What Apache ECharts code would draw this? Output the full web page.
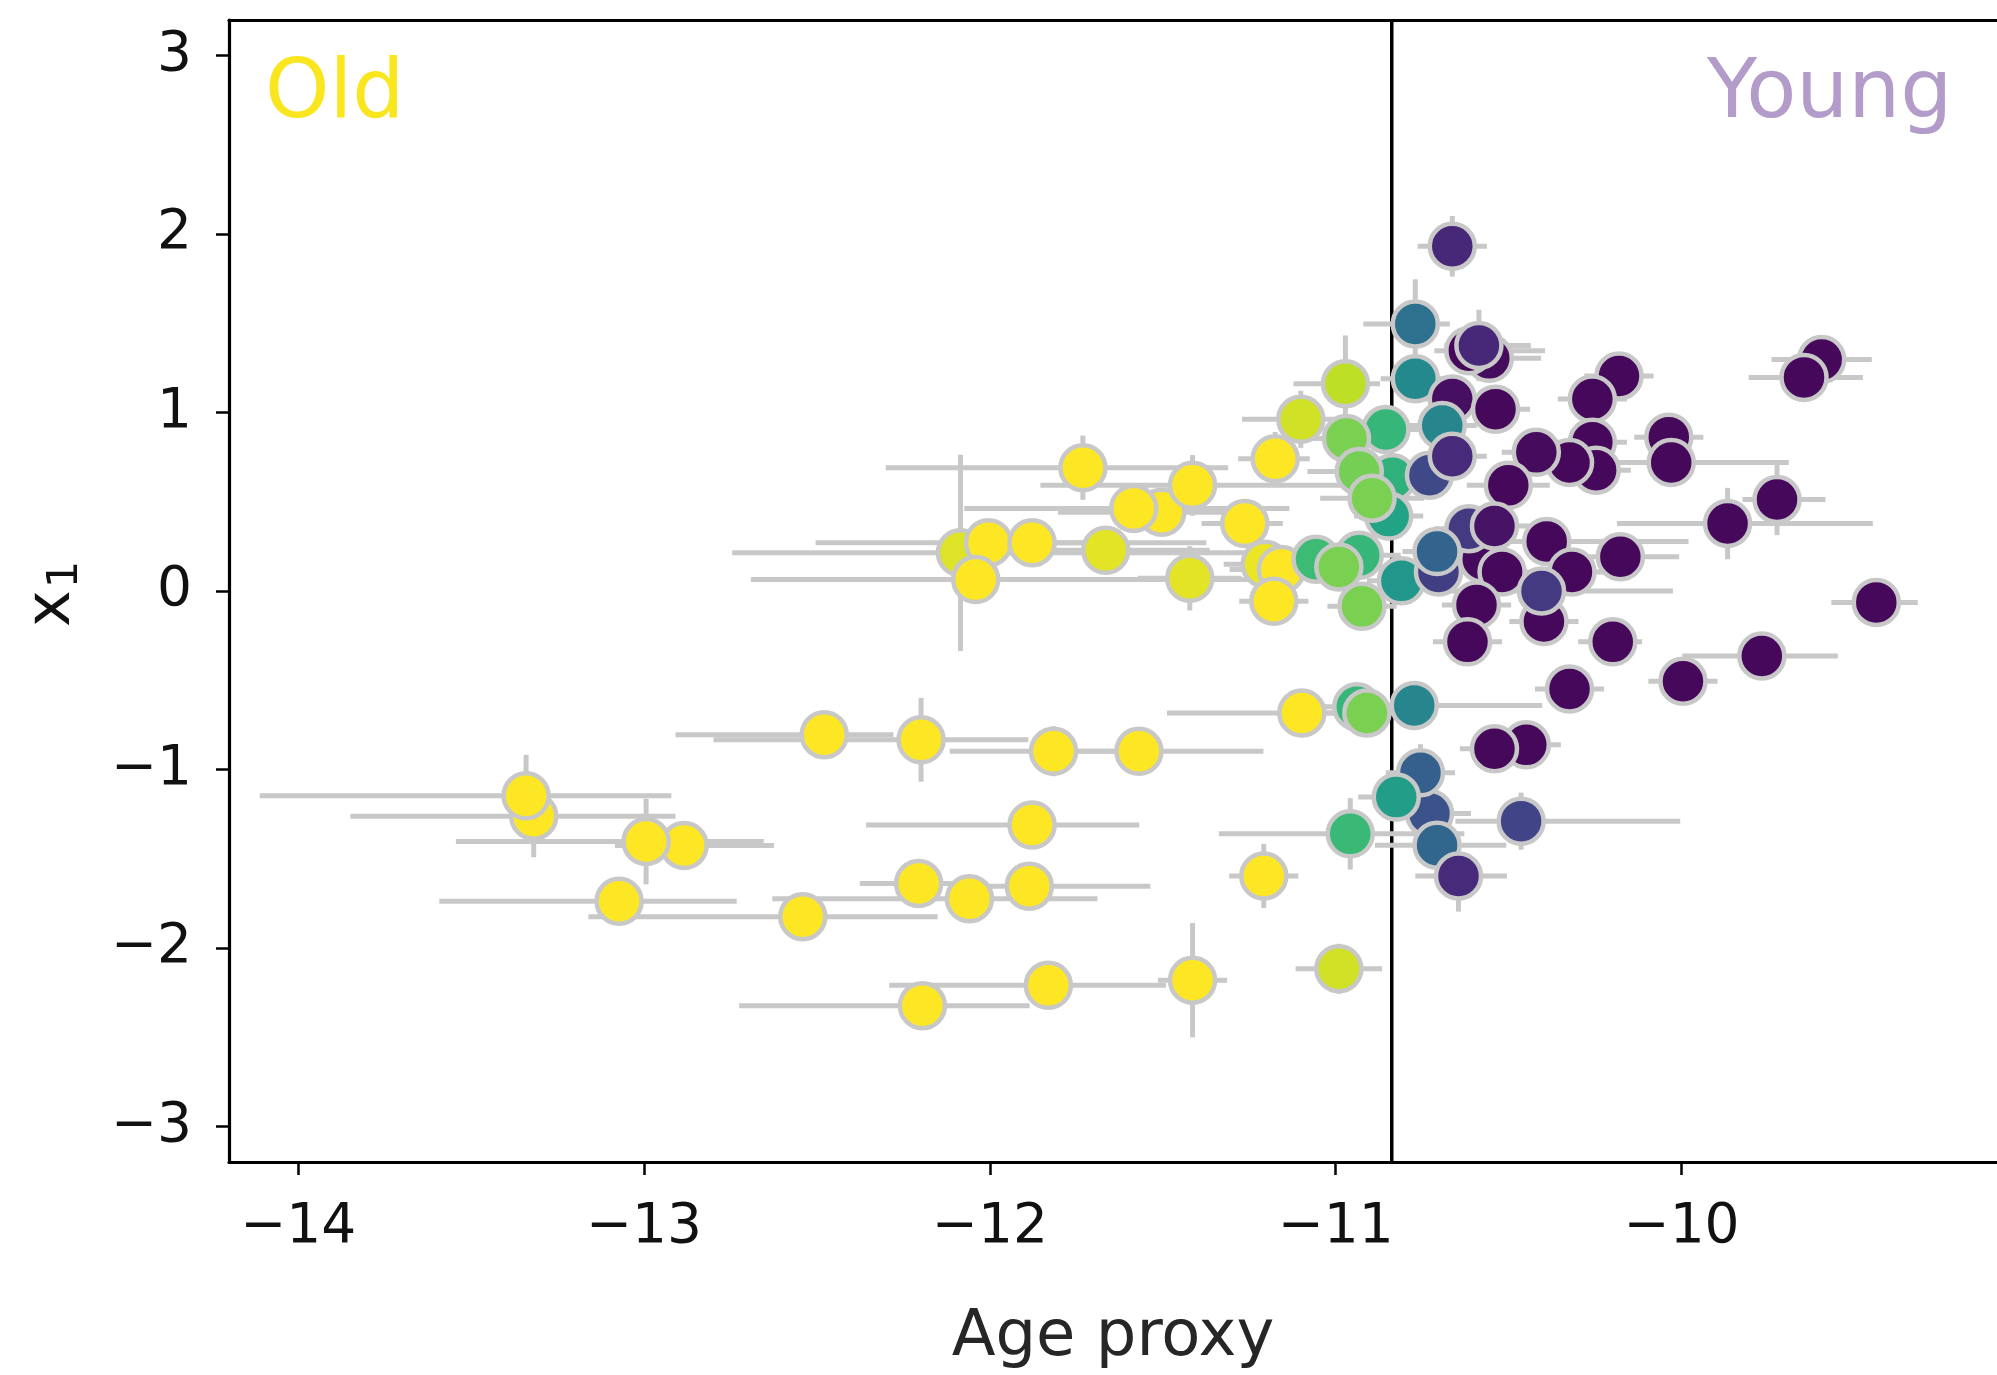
<!DOCTYPE html>
<html>
<head>
<meta charset="utf-8">
<script src="https://cdn.jsdelivr.net/npm/echarts@6/dist/echarts.min.js"></script>
<style>
  html, body { margin: 0; padding: 0; background: #ffffff; }
  #chart { width: 1997px; height: 1375px; }
</style>
</head>
<body>
<div id="chart"></div>
<script>
// Age proxy of each object (x axis)
const age = [
  -13.319, -13.341, -12.884, -12.994, -13.072, -12.479, -12.199, -12.541, -12.206, -12.059,
  -11.886, -12.195, -11.831, -11.414, -11.816, -11.569, -11.878, -11.208, -11.098, -11.731,
  -11.503, -11.584, -11.414, -11.263, -11.175, -12.085, -12.004, -12.041, -11.878, -11.665,
  -11.422, -11.204, -11.157, -11.179, -10.991, -11.101, -10.972,
  -10.855, -10.969, -10.836, -10.932, -10.847, -10.895, -11.057, -10.932, -10.991, -10.810,
  -10.924, -10.939, -10.910, -10.773, -10.958, -10.729, -10.755, -10.825, -10.707, -10.645,
  -10.464, -10.770, -10.770,
  -10.663, -10.556, -10.615, -10.586, -10.663, -10.538, -10.692, -10.729, -10.663, -10.181,
  -10.258, -10.258, -10.247, -10.324, -10.420, -10.501, -10.575, -10.615, -10.541, -10.703,
  -10.707, -10.519, -10.390, -10.317, -10.398, -10.405, -10.593, -10.619, -10.177, -10.199,
  -10.324, -10.449, -10.541, -10.037, -10.030, -9.595, -9.646, -9.724, -9.867, -9.437,
  -9.768, -9.996
];
// First latent coordinate x1 (y axis)
const x1 = [
  -1.262, -1.148, -1.426, -1.404, -1.739, -0.805, -0.834, -1.825, -1.639, -1.725,
  -1.654, -2.324, -2.210, -2.181, -0.898, -0.898, -1.311, -1.597, -0.684, 0.691,
  0.442, 0.463, 0.592, 0.378, 0.741, 0.214, 0.271, 0.064, 0.271, 0.228,
  0.071, 0.150, 0.121, -0.057, -2.117, 0.962, 1.162,
  0.905, 0.855, 0.634, 0.670, 0.420, 0.520, 0.178, 0.200, 0.135, 0.057,
  -0.086, -0.649, -0.684, -0.641, -1.361, -1.247, -1.019, -1.155, -1.425, -1.597,
  -1.290, 1.190, 1.497,
  1.932, 1.304, 1.347, 1.376, 1.076, 1.019, 0.927, 0.649, 0.755, 1.205,
  1.076, 0.834, 0.677, 0.720, 0.777, 0.592, 0.178, 0.349, 0.364, 0.107,
  0.221, 0.107, 0.278, 0.107, -0.171, 0.000, -0.078, -0.285, 0.192, -0.285,
  -0.549, -0.862, -0.884, 0.862, 0.720, 1.297, 1.197, 0.513, 0.378, -0.064,
  -0.364, -0.506
];
// Lower / upper uncertainty on the age proxy
const ageErrLow = [
  0.53, 0.77, 0.20, 0.55, 0.52, 0.43, 0.60, 0.62, 0.17, 0.57,
  0.20, 0.53, 0.46, 0.10, 0.30, 0.20, 0.48, 0.10, 0.39, 0.57,
  0.30, 0.49, 0.44, 0.125, 0.107, 0.66, 0.50, 0.65, 0.20, 0.20,
  0.15, 0.12, 0.15, 0.10, 0.125, 0.17, 0.15,
  0.12, 0.15, 0.10, 0.15, 0.10, 0.15, 0.12, 0.12, 0.15, 0.10,
  0.10, 0.15, 0.20, 0.10, 0.38, 0.10, 0.10, 0.11, 0.18, 0.125,
  0.19, 0.10, 0.15,
  0.10, 0.10, 0.10, 0.10, 0.10, 0.10, 0.10, 0.10, 0.10, 0.10,
  0.10, 0.10, 0.10, 0.10, 0.10, 0.12, 0.10, 0.10, 0.10, 0.10,
  0.10, 0.10, 0.20, 0.10, 0.10, 0.30, 0.10, 0.10, 0.10, 0.10,
  0.10, 0.10, 0.10, 0.10, 0.40, 0.145, 0.16, 0.10, 0.32, 0.13,
  0.23, 0.10
];
const ageErrHigh = [
  0.41, 0.42, 0.26, 0.34, 0.34, 0.20, 0.31, 0.39, 0.20, 0.37,
  0.35, 0.31, 0.34, 0.10, 0.20, 0.36, 0.31, 0.10, 0.10, 0.42,
  0.30, 0.45, 0.50, 0.11, 0.10, 0.90, 0.63, 0.80, 0.20, 0.30,
  0.15, 0.12, 0.15, 0.10, 0.125, 0.10, 0.10,
  0.12, 0.15, 0.10, 0.15, 0.10, 0.15, 0.12, 0.12, 0.30, 0.10,
  0.10, 0.15, 0.20, 0.37, 0.33, 0.12, 0.10, 0.10, 0.20, 0.14,
  0.46, 0.10, 0.10,
  0.10, 0.15, 0.22, 0.15, 0.10, 0.10, 0.10, 0.10, 0.10, 0.10,
  0.10, 0.10, 0.10, 0.10, 0.10, 0.12, 0.10, 0.10, 0.10, 0.10,
  0.10, 0.10, 0.41, 0.10, 0.10, 0.38, 0.10, 0.10, 0.17, 0.085,
  0.10, 0.10, 0.10, 0.10, 0.34, 0.145, 0.17, 0.14, 0.42, 0.12,
  0.22, 0.10
];
// Symmetric uncertainty on x1
const x1Err = [
  0.23, 0.23, 0.10, 0.24, 0.12, 0.12, 0.235, 0.10, 0.12, 0.10,
  0.12, 0.12, 0.12, 0.32, 0.14, 0.10, 0.10, 0.18, 0.10, 0.18,
  0.10, 0.12, 0.17, 0.10, 0.15, 0.55, 0.10, 0.12, 0.10, 0.10,
  0.18, 0.10, 0.10, 0.12, 0.14, 0.16, 0.27,
  0.10, 0.12, 0.10, 0.10, 0.10, 0.10, 0.10, 0.10, 0.10, 0.10,
  0.10, 0.10, 0.10, 0.10, 0.20, 0.10, 0.16, 0.10, 0.10, 0.20,
  0.16, 0.10, 0.25,
  0.17, 0.10, 0.10, 0.20, 0.10, 0.10, 0.10, 0.10, 0.10, 0.10,
  0.10, 0.10, 0.10, 0.10, 0.10, 0.10, 0.10, 0.10, 0.10, 0.10,
  0.10, 0.10, 0.10, 0.10, 0.10, 0.10, 0.10, 0.10, 0.10, 0.10,
  0.10, 0.10, 0.10, 0.10, 0.10, 0.10, 0.10, 0.20, 0.20, 0.10,
  0.10, 0.10
];
// Probability of belonging to the old population (colour)
const oldProb = [
  1, 1, 1, 1, 1, 1, 1, 1, 1, 1,
  1, 1, 1, 1, 1, 1, 1, 1, 1, 1,
  1, 1, 1, 1, 1, 0.95, 1, 1, 1, 0.96,
  0.96, 0.97, 1, 1, 0.93, 0.93, 0.90,
  0.66, 0.80, 0.64, 0.79, 0.58, 0.80, 0.68, 0.66, 0.80, 0.52,
  0.80, 0.66, 0.80, 0.45, 0.67, 0.25, 0.30, 0.55, 0.33, 0.12,
  0.20, 0.47, 0.37,
  0.11, 0.03, 0.02, 0.11, 0.04, 0.02, 0.45, 0.22, 0.12, 0.02,
  0.02, 0.02, 0.02, 0.02, 0.03, 0.02, 0.03, 0.17, 0.05, 0.18,
  0.32, 0.02, 0.02, 0.02, 0.02, 0.17, 0.02, 0.02, 0.02, 0.02,
  0.02, 0.02, 0.02, 0.02, 0.02, 0.02, 0.02, 0.02, 0.02, 0.02,
  0.02, 0.02
];
// Axis ticks and the age threshold separating the two populations
const ageTicks = [-14, -13, -12, -11, -10];
const x1Ticks = [-3, -2, -1, 0, 1, 2, 3];
const ageRange = [-14.2, -9.088];
const x1Range = [-3.2, 3.2];
const ageSplit = -10.838;

const viridis = ['#440154', '#482475', '#414487', '#355f8d', '#2a788e', '#21918c',
                 '#22a884', '#44bf70', '#7ad151', '#bddf26', '#fde725'];
const FONT = 'DejaVu Sans';
const minusFmt = v => String(v).replace('-', '\u2212');

const errData = age.map((a, i) => [a, x1[i], ageErrLow[i], ageErrHigh[i], x1Err[i]]);
const pointData = age.map((a, i) => [a, x1[i], oldProb[i]]);

const chart = echarts.init(document.getElementById('chart'), null, { renderer: 'canvas' });

const axisLineStyle = { color: '#000', width: 3.2 };

chart.setOption({
  animation: false,
  backgroundColor: '#ffffff',
  grid: { left: 229, top: 20, right: 0, bottom: 209, containLabel: false },
  xAxis: [{
    type: 'value', min: ageRange[0], max: ageRange[1], position: 'bottom',
    name: 'Age proxy', nameLocation: 'middle', nameGap: 144,
    nameTextStyle: { fontFamily: FONT, fontSize: 64, color: '#262626' },
    axisLine: { show: true, onZero: false, lineStyle: axisLineStyle },
    axisTick: { show: true, length: 13, customValues: ageTicks, lineStyle: { color: '#000', width: 2.5 } },
    axisLabel: { customValues: ageTicks, formatter: minusFmt, fontFamily: FONT, fontSize: 55, color: '#111', margin: 38 },
    splitLine: { show: false }
  }, {
    type: 'value', min: ageRange[0], max: ageRange[1], position: 'top',
    axisLine: { show: true, onZero: false, lineStyle: axisLineStyle },
    axisTick: { show: false }, axisLabel: { show: false }, splitLine: { show: false }
  }],
  yAxis: {
    type: 'value', min: x1Range[0], max: x1Range[1],
    axisLine: { show: true, onZero: false, lineStyle: axisLineStyle },
    axisTick: { show: true, length: 13, customValues: x1Ticks, lineStyle: { color: '#000', width: 2.5 } },
    axisLabel: { customValues: x1Ticks, formatter: minusFmt, fontFamily: FONT, fontSize: 55, color: '#111', margin: 37 },
    splitLine: { show: false }
  },
  visualMap: {
    type: 'continuous', show: false, seriesIndex: 2, dimension: 2,
    min: 0, max: 1, inRange: { color: viridis }
  },
  graphic: [
    { type: 'text', left: 265, top: 55, style: { text: 'Old', fontFamily: FONT, fontSize: 82, fill: '#fae61e' } },
    { type: 'text', left: 1707, top: 55, style: { text: 'Young', fontFamily: FONT, fontSize: 82, fill: '#b39cc9' } },
    {
      type: 'text', x: 53, y: 594, rotation: Math.PI / 2,
      style: {
        text: '{a|x}{b|1}', align: 'center', verticalAlign: 'middle',
        rich: {
          a: { fontFamily: FONT, fontSize: 62, fill: '#111', lineHeight: 70 },
          b: { fontFamily: FONT, fontSize: 43, fill: '#111', padding: [26, 0, 0, 2], lineHeight: 70 }
        }
      }
    }
  ],
  series: [
    {
      // age threshold
      type: 'line', silent: true, z: 1, showSymbol: false,
      data: [[ageSplit, x1Range[0]], [ageSplit, x1Range[1]]],
      lineStyle: { color: '#000', width: 3.5 }
    },
    {
      // error bars
      type: 'custom', z: 2, silent: true,
      encode: { x: 0, y: 1 },
      data: errData,
      renderItem: function (params, api) {
        const xv = api.value(0), yv = api.value(1);
        const l = api.coord([xv - api.value(2), yv]);
        const r = api.coord([xv + api.value(3), yv]);
        const t = api.coord([xv, yv + api.value(4)]);
        const b = api.coord([xv, yv - api.value(4)]);
        const st = { stroke: '#c8c8c8', lineWidth: 5 };
        return {
          type: 'group',
          children: [
            { type: 'line', shape: { x1: l[0], y1: l[1], x2: r[0], y2: r[1] }, style: st },
            { type: 'line', shape: { x1: t[0], y1: t[1], x2: b[0], y2: b[1] }, style: st }
          ]
        };
      }
    },
    {
      type: 'scatter', z: 3,
      data: pointData,
      symbolSize: 45,
      itemStyle: { borderColor: '#c8c8c8', borderWidth: 4.5, opacity: 1 }
    }
  ]
});
</script>
</body>
</html>
